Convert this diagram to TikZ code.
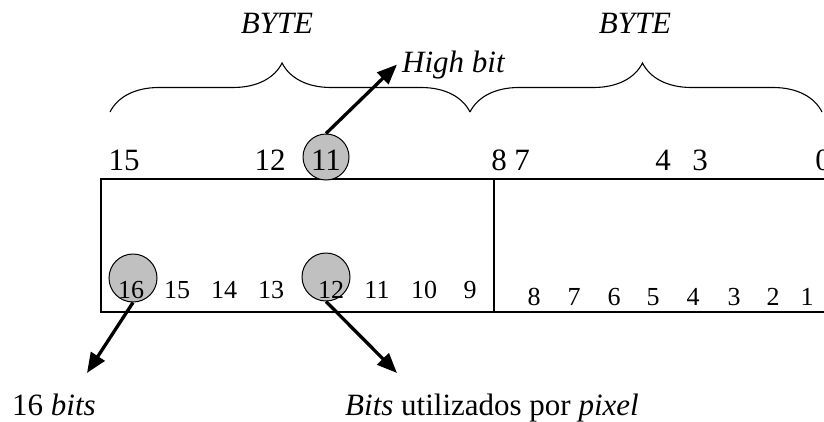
\documentclass[tikz,border=0pt]{standalone}
\usepackage{fontspec}
\setmainfont{Liberation Serif}
\usetikzlibrary{arrows.meta,positioning,decorations.pathreplacing}
\definecolor{bitgray}{RGB}{192,192,192}
\tikzset{
  bitcirc/.style={circle, draw, line width=1pt, fill=bitgray, minimum size=#1, inner sep=0pt},
  numtop/.style={anchor=base, inner sep=0pt, font=\fontsize{31}{31}\selectfont},
  numbox/.style={anchor=base, inner sep=0pt, font=\fontsize{26}{26}\selectfont},
  bytelbl/.style={anchor=base, inner sep=0pt, font=\fontsize{31}{31}\selectfont\itshape},
  lbl/.style={anchor=base west, inner sep=0pt, font=\fontsize{31}{31}\selectfont},
  pointer/.style={line width=3.3pt, -{Triangle[length=20pt,width=16pt]}},
  bytebrace/.style={decorate, decoration={brace, amplitude=49pt, aspect=#1}, line width=1.1pt}
}

\begin{document}
\begin{tikzpicture}[x=1pt,y=-1pt]
    \clip (0,0) rectangle (824,421);
    \fill[white] (0,0) rectangle (824,421);
    % register
    \draw[line width=1.3pt] (101,179) rectangle (840,312);
    \draw[line width=1.3pt] (494,179) -- (494,312);
    % bytes
    \draw[bytebrace=0.478] (110,112) -- (470,112);
    \draw[bytebrace=0.49] (470,112) -- (822,112);
    \node[bytelbl] (byteHi) at (277,33) {BYTE};
    \node[bytelbl] (byteLo) at (635,33) {BYTE};
    % marked bits
    \node[bitcirc=46pt] (c11) at (326,157) {};
    \node[bitcirc=48pt] (c16) at (133,278) {};
    \node[bitcirc=48pt] (c12) at (326,277) {};
    \node[numtop] (top11) at (326,170) {11};
    \foreach \n/\x in {15/124,12/270,8/499,7/522,4/663,3/700,0/823}
        \node[numtop] (top\n) at (\x,170) {\n};
    \foreach \n/\x in {16/131,15/177,14/224,13/271,12/331,11/377,10/424,9/470}
        \node[numbox] (lo\n) at (\x,298) {\n};
    \foreach \n/\x in {8/534,7/574,6/614,5/653,4/693,3/734,2/773,1/807}
        \node[numbox] (ro\n) at (\x,305) {\n};
    % labels
    \node[lbl] (hb) at (402,72) {\textit{High bit}};
    \node[lbl] (nbits) at (12,415) {16 \textit{bits}};
    \node[lbl] (used) at (345,415) {\textit{Bits} utilizados por \textit{pixel}};
    \coordinate (tip16) at (87,373);
    \coordinate (tip12) at (397,373);
    \draw[pointer] (c11.north) -- ([xshift=-5pt]hb.west);
    \draw[pointer] (c16.south) -- (tip16);
    \draw[pointer] (c12.south) -- (tip12);
\end{tikzpicture}
\end{document}
